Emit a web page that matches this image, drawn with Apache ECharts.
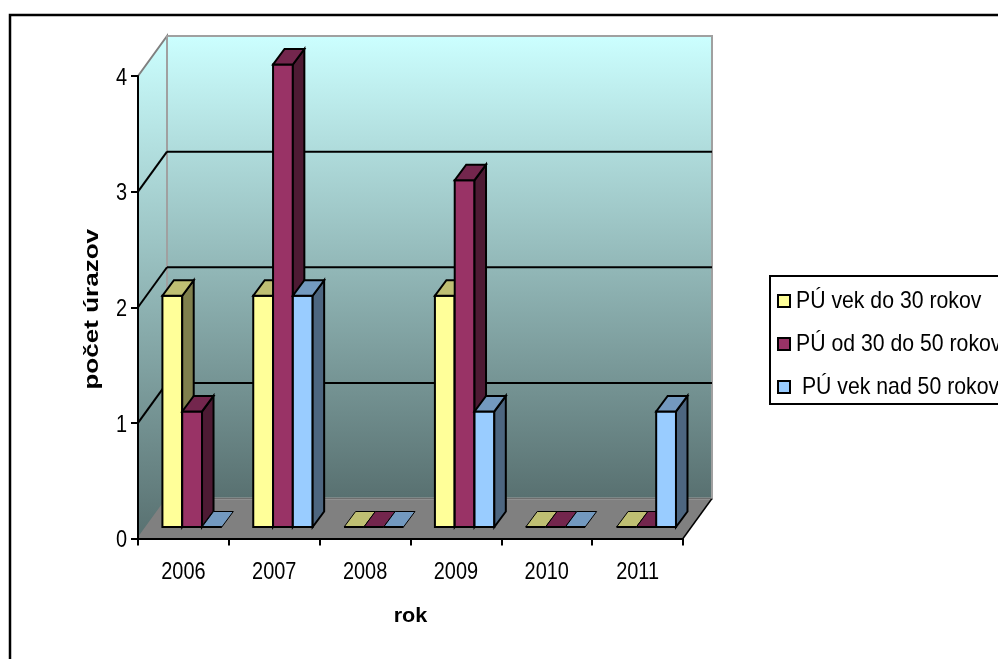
<!DOCTYPE html>
<html>
<head>
<meta charset="utf-8">
<style>html,body{margin:0;padding:0;background:#fff;overflow:hidden}#c{width:998px;height:659px}</style>
<script src="https://cdn.jsdelivr.net/npm/echarts@6/dist/echarts.min.js"></script>
</head>
<body>
<div id="c"></div>
<script>
const categories = ['2006','2007','2008','2009','2010','2011'];
const seriesNames = ['PÚ vek do 30 rokov','PÚ od 30 do 50 rokov',' PÚ vek nad 50 rokov'];
const youngValues = [2,2,0,2,0,0];
const middleValues = [1,4,0,3,0,0];
const olderValues = [0,2,0,1,0,1];
const yTicks = [0,1,2,3,4];
const yTitle = 'počet úrazov';
const xTitle = 'rok';

const FONT = '"Liberation Sans",Arial,sans-serif';
const WALL = {dx:29, dy:-40};
const FRONT = {dx:8.7, dy:-11.5};
const DEPTH = {dx:11.5, dy:-15.5};
const BAR_BAND = 0.218;
const palettes = [
  {front:'#FFFF99', top:'#BFBF73', side:'#80804D'},
  {front:'#993366', top:'#73264D', side:'#4D1A33'},
  {front:'#99CCFF', top:'#7399BF', side:'#4D6680'}
];

function poly(points, fill, stroke, lw){
  return {type:'polygon', shape:{points}, style:{fill, stroke:stroke||'none', lineWidth:lw||0, lineJoin:'miter'}};
}
function line(a,b,stroke,lw){
  return {type:'line', shape:{x1:a[0],y1:a[1],x2:b[0],y2:b[1]}, style:{stroke, lineWidth:lw}};
}
function wallGradient(){
  return new echarts.graphic.LinearGradient(0,0,0,1,[{offset:0,color:'#CCFFFF'},{offset:1,color:'#587070'}]);
}
function renderWalls(params, api){
  const g = params.coordSys;
  const x0 = g.x, x1 = g.x+g.width;
  const top = api.coord([0,4])[1], base = api.coord([0,0])[1];
  const dx = WALL.dx, dy = WALL.dy;
  const kids = [];
  kids.push(poly([[x0,base],[x1,base],[x1+dx,base+dy],[x0+dx,base+dy]],'#808080'));
  kids.push(poly([[x0,top],[x0+dx,top+dy],[x0+dx,base+dy],[x0,base]],wallGradient(),'#808080',2));
  kids.push(poly([[x0+dx,top+dy],[x1+dx,top+dy],[x1+dx,base+dy],[x0+dx,base+dy]],wallGradient(),'#A0A0A0',2));
  yTicks.forEach(function(t){
    const y = api.coord([0,t])[1];
    if(t>0 && t<4){
      kids.push(line([x0,y],[x0+dx,y+dy],'#000',2));
      kids.push(line([x0+dx,y+dy],[x1+dx,y+dy],'#000',2));
    }
  });
  kids.push(line([x0,base],[x0+dx,base+dy],'#808080',1));
  kids.push(line([x1,base],[x1+dx,base+dy],'#000',1.5));
  kids.push(line([x0+dx,base+dy],[x1+dx,base+dy],'#6E6E6E',1));
  return {type:'group', children:kids};
}
function barRenderer(index){
  const pal = palettes[index];
  return function(params, api){
    const band = api.size([1,0])[0];
    const w = band*BAR_BAND;
    const c = api.value(0), v = api.value(1);
    const p0 = api.coord([c,0]), p1 = api.coord([c,v]);
    const xl = p0[0]+FRONT.dx+(index-1.5)*w, xr = xl+w;
    const yb = p0[1]+FRONT.dy, yt = p1[1]+FRONT.dy;
    const dx = DEPTH.dx, dy = DEPTH.dy;
    const kids = [];
    if(v>0){
      kids.push(poly([[xl,yt],[xr,yt],[xr,yb],[xl,yb]],pal.front,'#000',2));
      kids.push(poly([[xr,yt],[xr+dx,yt+dy],[xr+dx,yb+dy],[xr,yb]],pal.side,'#000',2));
    }
    kids.push(poly([[xl,yt],[xr,yt],[xr+dx,yt+dy],[xl+dx,yt+dy]],pal.top,'#000',v>0?2:1));
    if(v===0) kids.push(line([xl,yb],[xr,yb],'#000',2));
    return {type:'group', children:kids};
  };
}
function pairs(values){ return values.map(function(v,i){return [i,v];}); }

const chart = echarts.init(document.getElementById('c'), null, {renderer:'canvas'});
const valueSets = [youngValues, middleValues, olderValues];
chart.setOption({
  animation:false,
  backgroundColor:'#fff',
  graphic:[{type:'rect', z:0, silent:true, shape:{x:10,y:15,width:1100,height:800}, style:{fill:'none',stroke:'#000',lineWidth:2.5}}],
  grid:{left:138, right:315, top:76, bottom:120.5, containLabel:false},
  legend:{
    orient:'vertical', left:770, top:276, padding:[13,12,5,7], itemGap:19,
    itemWidth:12, itemHeight:12, borderColor:'#000', borderWidth:2, backgroundColor:'#fff',
    data:seriesNames.map(function(n,i){return {name:n, icon:'rect', itemStyle:{color:palettes[i].front, borderColor:'#000', borderWidth:2}};}),
    textStyle:{fontFamily:FONT, fontSize:24, color:'#000'}
  },
  xAxis:{
    type:'category', data:categories, z:6,
    axisLine:{lineStyle:{color:'#000',width:2}},
    axisTick:{show:true, length:7, alignWithLabel:false, lineStyle:{color:'#000',width:2}},
    axisLabel:{fontFamily:FONT, fontSize:24, color:'#000', margin:22},
    name:xTitle, nameLocation:'middle', nameGap:67,
    nameTextStyle:{fontFamily:FONT, fontSize:21, fontWeight:'bold', color:'#000'}
  },
  yAxis:{
    type:'value', min:0, max:4, interval:1, z:6,
    axisLine:{show:true, lineStyle:{color:'#000',width:2}},
    axisTick:{show:true, length:7, lineStyle:{color:'#000',width:2}},
    axisLabel:{fontFamily:FONT, fontSize:24, color:'#000', margin:11},
    splitLine:{show:false},
    name:yTitle, nameLocation:'middle', nameGap:35, nameMoveOverlap:false,
    nameTextStyle:{fontFamily:FONT, fontSize:21, fontWeight:'bold', color:'#000'}
  },
  series:[
    {type:'custom', name:'walls', coordinateSystem:'cartesian2d', z:1, silent:true, clip:false, data:[[0,0]], renderItem:renderWalls}
  ].concat(seriesNames.map(function(n,i){
    return {type:'custom', name:n, coordinateSystem:'cartesian2d', z:2+i, clip:false,
      itemStyle:{color:palettes[i].front}, encode:{x:0,y:1}, data:pairs(valueSets[i]), renderItem:barRenderer(i)};
  }))
});

// The reference text is horizontally condensed; squeeze the real text objects to match.
const zr = chart.getZr();
zr.storage.getRoots().forEach(function(root){
  root.traverse(function(el){
    if(el.type !== 'text' || !el.style) return;
    const t = el.style.text;
    if(t == null) return;
    let sx = 0.83, shift = 0, lift = 0;
    if(seriesNames.indexOf(t) >= 0){ sx = 0.885; shift = 1; }
    else if(t === yTitle){ sx = 1.24; lift = 2; }
    else if(t === xTitle){ sx = 1.03; }
    else if(categories.indexOf(t) < 0){ lift = 2; }
    el.originX = el.style.x || 0;
    el.originY = el.style.y || 0;
    el.scaleX = sx;
    el.x += shift;
    el.y += lift;
    el.dirty();
  });
});
zr.refresh();
</script>
</body>
</html>
